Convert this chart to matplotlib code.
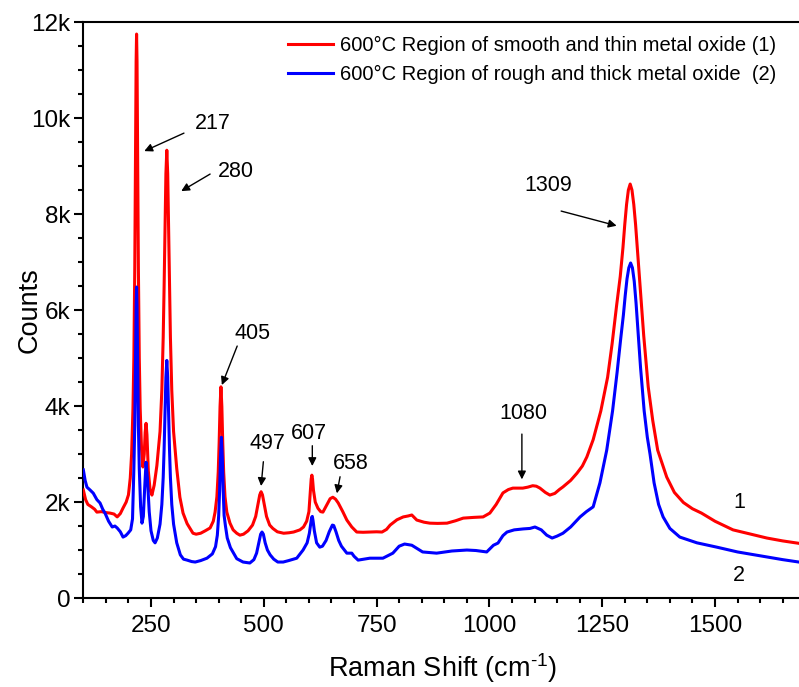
import matplotlib
matplotlib.use("Agg")
import matplotlib.pyplot as plt
from matplotlib.ticker import MultipleLocator, FuncFormatter

plt.rcParams['font.family'] = ['Liberation Sans', 'DejaVu Sans']
plt.rcParams['mathtext.fontset'] = 'custom'
plt.rcParams['mathtext.rm'] = 'Liberation Sans'
plt.rcParams['mathtext.it'] = 'Liberation Sans:italic'

# Raman shift (cm-1) and counts, spectrum 1 (smooth, thin oxide)
shift_1 = [100, 105, 110, 118, 125, 130, 140, 150, 159, 168, 175, 182, 188, 195, 200,
           204, 207, 210, 212, 214, 215, 216, 217, 218, 219, 220, 221, 222, 224, 226,
           229, 232, 235, 237, 239, 241, 244, 248, 252, 257, 263, 270, 274, 277, 279,
           281, 283, 285, 287, 289, 291, 293, 296, 300, 307, 314, 321, 330, 343, 350,
           360, 370, 381, 388, 392, 396, 399, 401, 403, 405, 407, 409, 411, 414, 418,
           425, 432, 440, 447, 455, 465, 475, 482, 487, 491, 494, 497, 501, 506, 513,
           520, 530, 544, 556, 566, 580, 588, 595, 600, 603, 605, 606.5, 608, 610, 614,
           620, 626, 631, 640, 647, 653, 659, 665, 675, 684, 695, 706, 720, 735, 750,
           762, 772, 780, 795, 809, 820, 828, 839, 855, 868, 885, 906, 925, 942, 965,
           986, 1001, 1015, 1030, 1042, 1052, 1074, 1085, 1096, 1104, 1112, 1124, 1134, 1145,
           1155, 1163, 1180, 1194, 1206, 1216, 1230, 1247, 1262, 1272, 1282, 1290, 1296,
           1300, 1304, 1308, 1312, 1316, 1320, 1324, 1328, 1334, 1342, 1352, 1362, 1373,
           1393, 1410, 1430, 1450, 1470, 1500, 1540, 1580, 1615, 1650, 1700]
counts_1 = [2250, 2050, 1950, 1900, 1850, 1790, 1800, 1780, 1770, 1750, 1690, 1760, 1875, 2000, 2150,
            2500, 3000, 3950, 5000, 6875, 8240, 9800, 11180, 11750, 11180, 9800, 8240, 6875, 5000, 3950,
            3100, 2730, 3000, 3450, 3640, 3400, 2650, 2250, 2145, 2350, 2760, 3470, 4330, 5430, 6470,
            7710, 8840, 9330, 8840, 7710, 6470, 5430, 4330, 3470, 2700, 2100, 1770, 1550, 1350, 1330,
            1350, 1400, 1460, 1600, 1790, 2110, 2630, 3230, 3990, 4400, 3990, 3230, 2630, 2110, 1790,
            1560, 1420, 1350, 1310, 1330, 1400, 1520, 1700, 1950, 2150, 2215, 2150, 1950, 1700, 1520,
            1450, 1380, 1350, 1360, 1375, 1420, 1480, 1600, 1800, 2200, 2480, 2560, 2480, 2250, 2000,
            1870, 1800, 1790, 1950, 2070, 2100, 2060, 1980, 1800, 1625, 1480, 1375, 1370, 1375, 1380,
            1375, 1430, 1520, 1630, 1690, 1710, 1730, 1625, 1580, 1560, 1555, 1560, 1610, 1665, 1680,
            1690, 1770, 1950, 2190, 2260, 2290, 2290, 2310, 2340, 2330, 2290, 2200, 2145, 2180,
            2260, 2315, 2450, 2600, 2750, 2940, 3300, 3900, 4600, 5300, 6100, 6700, 7300,
            7780, 8200, 8500, 8625, 8500, 8200, 7780, 7260, 6450, 5470, 4400, 3700, 3080,
            2520, 2200, 1990, 1860, 1770, 1600, 1420, 1330, 1250, 1190, 1120]

# Raman shift (cm-1) and counts, spectrum 2 (rough, thick oxide)
shift_2 = [100, 104, 108, 115, 122, 130, 137, 143, 148, 156, 164, 170, 175, 182, 188,
           194, 199, 205, 209, 212, 214, 215, 216, 217, 218, 219, 220, 221, 222, 224,
           227, 230, 233, 236, 239, 242, 246, 250, 255, 259, 264, 270, 274, 277, 279,
           281, 283, 285, 287, 289, 291, 293, 296, 300, 307, 315, 322, 330, 340, 348,
           360, 374, 386, 393, 397, 400, 402, 404, 406, 408, 410, 412, 415, 419, 426,
           432, 440, 454, 469, 478, 484, 489, 493, 496, 499, 503, 508, 514, 522, 531,
           543, 555, 573, 587, 596, 601, 604, 606, 607.5, 609, 612, 617, 624, 630, 638,
           645, 652, 655, 660, 666, 672, 684, 695, 700, 709, 735, 764, 786, 800, 812,
           828, 840, 852, 883, 917, 935, 950, 970, 994, 1009, 1019, 1030, 1039, 1055,
           1075, 1090, 1101, 1115, 1127, 1139, 1150, 1163, 1180, 1201, 1215, 1230, 1245,
           1260, 1273, 1283, 1291, 1297, 1301, 1305, 1309, 1313, 1317, 1321, 1325, 1329,
           1335, 1343, 1350, 1356, 1365, 1375, 1385, 1400, 1422, 1460, 1504, 1550, 1615,
           1650, 1700]
counts_2 = [2670, 2450, 2310, 2250, 2185, 2050, 1980, 1850, 1770, 1600, 1480, 1500, 1460, 1380, 1270,
            1300, 1350, 1420, 1650, 2690, 3600, 4330, 5230, 6090, 6480, 6090, 5230, 4330, 3600, 2690,
            1900, 1560, 1700, 2300, 2830, 2500, 1800, 1400, 1200, 1150, 1250, 1540, 1950, 2510, 3090,
            3840, 4600, 4950, 4600, 3840, 3090, 2510, 1950, 1540, 1150, 900, 810, 790, 760, 750,
            780, 830, 920, 1070, 1310, 1720, 2230, 2930, 3350, 2930, 2230, 1720, 1500, 1250, 1050,
            950, 820, 750, 730, 800, 935, 1150, 1330, 1375, 1330, 1150, 1000, 900, 810, 750,
            750, 780, 830, 1000, 1150, 1350, 1550, 1680, 1700, 1620, 1400, 1150, 1060, 1080, 1200,
            1380, 1520, 1510, 1380, 1200, 1080, 935, 935, 870, 790, 830, 830, 935, 1080, 1125,
            1100, 1030, 960, 935, 980, 990, 1000, 990, 960, 1100, 1145, 1300, 1375, 1420,
            1440, 1450, 1480, 1420, 1310, 1250, 1290, 1350, 1480, 1690, 1800, 1900, 2400,
            3080, 3900, 4700, 5400, 5900, 6300, 6650, 6880, 6980, 6880, 6600, 6150, 5600,
            4800, 3900, 3350, 3000, 2400, 1950, 1690, 1450, 1270, 1150, 1060, 960, 855,
            800, 730]

series_labels = ["600°C Region of smooth and thin metal oxide (1)",
                 "600°C Region of rough and thick metal oxide  (2)"]

# Peak annotations: label, text position, arrow tail, arrow head
peak_labels = ["217", "280", "405", "497", "607", "658", "1080", "1309"]
peak_text_xy = [(387, 9895), (438, 8895), (475, 5514), (508, 3222),
                (601, 3430), (693, 2806), (1075, 3847), (1131, 8604)]
peak_tail_xy = [(323, 9686), (381, 8833), (441, 5250), (499, 2840),
                (607.5, 3173), (669, 2527), (1072, 3416), (1159, 8062)]
peak_head_xy = [(235, 9311), (317, 8478), (407, 4437), (494, 2333),
                (607.5, 2750), (662, 2181), (1072, 2472), (1282, 7756)]

fig = plt.figure(figsize=(7.99, 6.87), dpi=100)
ax = fig.add_axes([0.1043, 0.1295, 0.9035, 0.8384])

ax.plot(shift_1, counts_1, color='#ff0000', lw=2.2, label=series_labels[0], zorder=3)
ax.plot(shift_2, counts_2, color='#0000ff', lw=2.2, label=series_labels[1], zorder=3)

ax.set_xlim(100, 1700)
ax.set_ylim(0, 12000)

ax.xaxis.set_major_locator(MultipleLocator(250))
ax.xaxis.set_minor_locator(MultipleLocator(50))
ax.yaxis.set_major_locator(MultipleLocator(2000))
ax.yaxis.set_minor_locator(MultipleLocator(500))
ax.yaxis.set_major_formatter(FuncFormatter(lambda v, p: "0" if v == 0 else f"{int(v/1000)}k"))
ax.xaxis.set_major_formatter(FuncFormatter(lambda v, p: "" if v < 200 else f"{int(v)}"))

for s in ax.spines.values():
    s.set_linewidth(1.5)
ax.tick_params(which='both', direction='out', top=False, right=False, width=1.5)
ax.tick_params(which='major', length=6.5, labelsize=17.5, pad=3)
ax.tick_params(axis='x', which='major', pad=6)
ax.tick_params(which='minor', length=3.5)

ax.set_xlabel(r"Raman Shift (cm$^{\text{-1}}$)", fontsize=19.5)
ax.set_ylabel("Counts", fontsize=19.5)
ax.xaxis.set_label_coords(0.4976, -0.093)
ax.yaxis.set_label_coords(-0.056, 0.5)

for lab, txy, tail, head in zip(peak_labels, peak_text_xy, peak_tail_xy, peak_head_xy):
    ax.text(txy[0], txy[1], lab, fontsize=15.5, ha='center', va='center', zorder=4)
    ax.annotate("", xy=head, xytext=tail,
                arrowprops=dict(arrowstyle='-|>', color='black', lw=1.0,
                                mutation_scale=12, shrinkA=0, shrinkB=0), zorder=4)

ax.text(1555, 1985, "1", fontsize=15.5, ha='center', va='center')
ax.text(1554, 479, "2", fontsize=15.5, ha='center', va='center')

leg = ax.legend(loc='upper left', bbox_to_anchor=(0.273, 0.99), frameon=False,
                fontsize=14.5, handlelength=2.2, handletextpad=0.35, labelspacing=0.5,
                borderaxespad=0)

fig.savefig("out.png", dpi=100)
